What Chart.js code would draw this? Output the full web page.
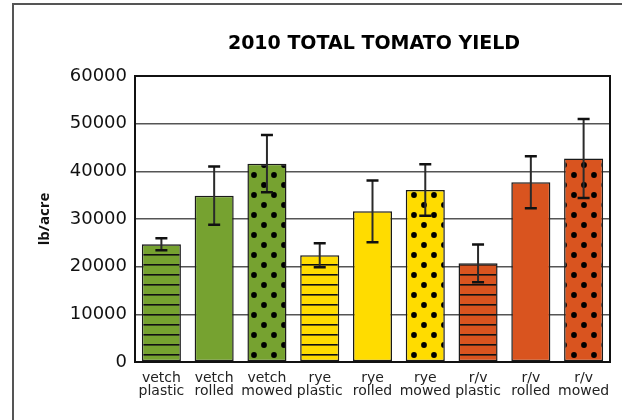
<!DOCTYPE html>
<html>
<head>
<meta charset="utf-8">
<script src="https://cdn.jsdelivr.net/npm/chart.js@4.4.1/dist/chart.umd.min.js"></script>
<style>
  html,body{margin:0;padding:0;background:#fff;}
  #wrap{position:relative;width:622px;height:420px;overflow:hidden;}
  #frame{position:absolute;left:12px;top:3px;width:640px;height:440px;border:2px solid #555;}
  canvas{position:absolute;left:0;top:0;}
</style>
</head>
<body>
<div id="wrap">
  <div id="frame"></div>
  <canvas id="c" width="622" height="420"></canvas>
</div>
<script>
// ---- data ----
const categories = [
  ['vetch','plastic'], ['vetch','rolled'], ['vetch','mowed'],
  ['rye','plastic'], ['rye','rolled'], ['rye','mowed'],
  ['r/v','plastic'], ['r/v','rolled'], ['r/v','mowed']
];
const yieldValues = [24700, 34900, 41600, 22400, 31600, 36100, 20700, 37700, 42700];
const errorValues = [1250, 6100, 6000, 2500, 6500, 5400, 3950, 5450, 8300];
const yTickValues = [0, 10000, 20000, 30000, 40000, 50000, 60000];
const chartTitle = '2010 TOTAL TOMATO YIELD';
const yAxisTitle = 'lb/acre';

// ---- styles ----
const GREEN = '#76a230', YELLOW = '#ffdc00', ORANGE = '#d9541f';
const barColors = [GREEN, GREEN, GREEN, YELLOW, YELLOW, YELLOW, ORANGE, ORANGE, ORANGE];
const barFills = ['stripes', 'solid', 'dots', 'stripes', 'solid', 'dots', 'stripes', 'solid', 'dots'];
const FONT = '"DejaVu Sans", "Open Sans", sans-serif';

function makePattern(color, kind) {
  if (kind === 'solid') return color;
  const c = document.createElement('canvas');
  const ctx = c.getContext('2d');
  if (kind === 'stripes') {
    c.width = 10; c.height = 10;
    ctx.fillStyle = color; ctx.fillRect(0, 0, 10, 10);
    ctx.fillStyle = '#111'; ctx.fillRect(0, 4, 10, 1.6);
  } else {
    c.width = 20; c.height = 20;
    ctx.fillStyle = color; ctx.fillRect(0, 0, 20, 20);
    ctx.fillStyle = '#000';
    [[4, 5], [14, 15]].forEach(([x, y]) => {
      ctx.beginPath(); ctx.arc(x, y, 2.9, 0, Math.PI * 2); ctx.fill();
    });
  }
  return document.getElementById('c').getContext('2d').createPattern(c, 'repeat');
}
const backgrounds = barColors.map((col, i) => makePattern(col, barFills[i]));

const errorBarPlugin = {
  id: 'errorBars',
  afterDatasetsDraw(chart) {
    const ctx = chart.ctx;
    const meta = chart.getDatasetMeta(0);
    const ys = chart.scales.y;
    ctx.save();
    meta.data.forEach((bar, i) => {
      const v = yieldValues[i], e = errorValues[i];
      const yTop = ys.getPixelForValue(v + e);
      const yBot = ys.getPixelForValue(v - e);
      const x = bar.x;
      ctx.strokeStyle = '#2a2a2a';
      ctx.lineWidth = 2;
      ctx.beginPath(); ctx.moveTo(x, yTop); ctx.lineTo(x, yBot); ctx.stroke();
      ctx.strokeStyle = '#111';
      ctx.lineWidth = 2.5;
      ctx.beginPath();
      ctx.moveTo(x - 6, yTop); ctx.lineTo(x + 6, yTop);
      ctx.moveTo(x - 6, yBot); ctx.lineTo(x + 6, yBot);
      ctx.stroke();
    });
    ctx.restore();
  }
};

const frameAndTitlePlugin = {
  id: 'frameTitle',
  afterDraw(chart) {
    const ctx = chart.ctx;
    const a = chart.chartArea;
    ctx.save();
    ctx.strokeStyle = '#111';
    ctx.lineWidth = 2;
    ctx.strokeRect(a.left, a.top, a.right - a.left, a.bottom - a.top);
    ctx.fillStyle = '#000';
    ctx.font = 'bold 19px ' + FONT;
    ctx.textAlign = 'center';
    ctx.textBaseline = 'middle';
    ctx.fillText(chartTitle, 374, 44);
    ctx.restore();
  }
};

new Chart(document.getElementById('c'), {
  type: 'bar',
  data: {
    labels: categories,
    datasets: [{
      data: yieldValues,
      backgroundColor: backgrounds,
      borderColor: '#1a1a1a',
      borderWidth: 1.5,
      borderSkipped: false,
      barPercentage: 0.74,
      categoryPercentage: 1.0
    }]
  },
  options: {
    responsive: false,
    animation: false,
    devicePixelRatio: 1,
    layout: { padding: { left: 36, right: 12, top: 76, bottom: 0 } },
    plugins: { legend: { display: false }, tooltip: { enabled: false }, title: { display: false } },
    scales: {
      x: {
        grid: { display: false, drawTicks: false },
        border: { display: false },
        ticks: {
          color: '#222', padding: 10, maxRotation: 0, autoSkip: false,
          font: { family: FONT, size: 14, lineHeight: 0.92 }
        },
        afterFit(s) { s.height = 58; }
      },
      y: {
        min: 0, max: 60000,
        afterBuildTicks(s) { s.ticks = yTickValues.map(v => ({ value: v })); },
        grid: { color: '#555', lineWidth: 1.5, drawTicks: false },
        border: { display: false },
        ticks: {
          color: '#111', padding: 8,
          font: { family: FONT, size: 18 },
          callback: v => String(v)
        },
        title: {
          display: true, text: yAxisTitle, color: '#111',
          font: { family: '"Open Sans", sans-serif', size: 15, weight: 'bold' },
          padding: { top: 0, bottom: 0 }
        },
        afterFit(s) { s.width = 99; }
      }
    }
  },
  plugins: [errorBarPlugin, frameAndTitlePlugin]
});
</script>
</body>
</html>
